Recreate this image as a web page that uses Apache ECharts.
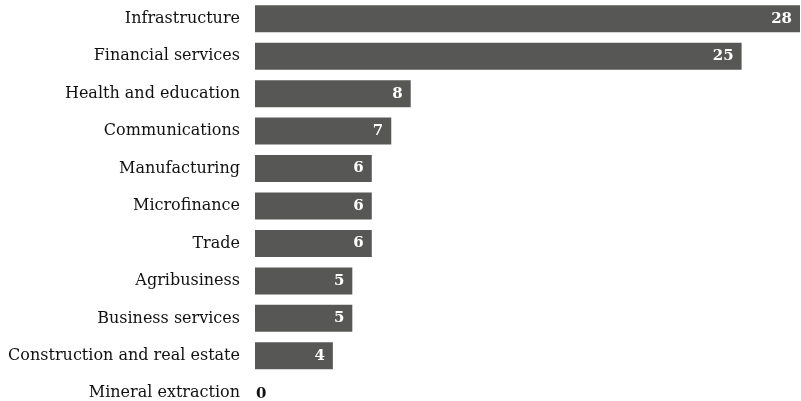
<!DOCTYPE html>
<html>
<head>
<meta charset="utf-8">
<script src="https://cdn.jsdelivr.net/npm/echarts@6/dist/echarts.min.js"></script>
<style>
  html, body { margin: 0; padding: 0; background: #ffffff; }
  #chart { width: 801px; height: 401px; }
</style>
</head>
<body>
<div id="chart"></div>
<script>
// Sectors, top to bottom
const sectors = [
  'Infrastructure',
  'Financial services',
  'Health and education',
  'Communications',
  'Manufacturing',
  'Microfinance',
  'Trade',
  'Agribusiness',
  'Business services',
  'Construction and real estate',
  'Mineral extraction'
];
// Share per sector
const shares = [28, 25, 8, 7, 6, 6, 6, 5, 5, 4, 0];

const FONT = '"DejaVu Serif", serif';
const BAR = '#575756';

// Zero-valued bars get their label outside in dark text
const seriesData = shares.map(v => v === 0
  ? { value: v, label: { position: 'right', offset: [-7, 1], color: '#111111' } }
  : { value: v });

const chart = echarts.init(document.getElementById('chart'), null, { renderer: 'canvas' });
chart.setOption({
  animation: false,
  // the last row runs a little past the bottom edge
  grid: {
    left: 255, right: 1, top: 0, bottom: -11,
    containLabel: false,
    outerBoundsMode: 'none'
  },
  xAxis: {
    type: 'value',
    min: 0,
    max: 28,
    show: false
  },
  yAxis: {
    type: 'category',
    data: sectors,
    inverse: true,
    axisLine: { show: false },
    axisTick: { show: false },
    splitLine: { show: false },
    axisLabel: {
      margin: 15,
      color: '#111111',
      fontFamily: FONT,
      fontSize: 16
    }
  },
  series: [{
    type: 'bar',
    data: seriesData,
    barWidth: 27,
    itemStyle: { color: BAR },
    label: {
      show: true,
      position: 'insideRight',
      distance: 8,
      color: '#ffffff',
      fontFamily: FONT,
      fontWeight: 'bold',
      fontSize: 15
    }
  }]
});
</script>
</body>
</html>
